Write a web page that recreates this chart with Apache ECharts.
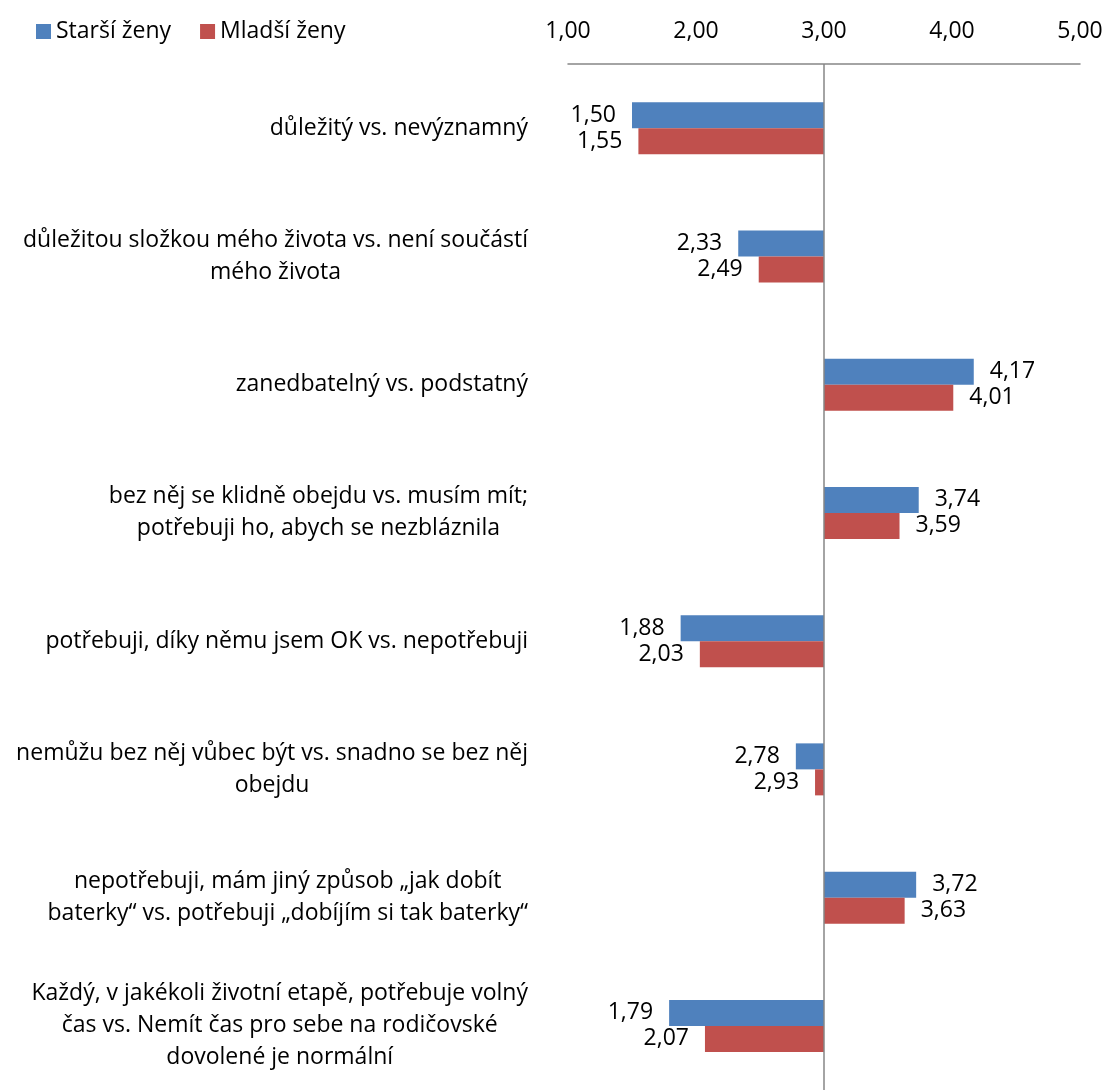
<!DOCTYPE html>
<html>
<head>
<meta charset="utf-8">
<script src="https://cdn.jsdelivr.net/npm/echarts@6/dist/echarts.min.js"></script>
<style>html,body{margin:0;padding:0;background:#fff;overflow:hidden}#c{width:1107px;height:1090px}</style>
</head>
<body>
<div id="c"></div>
<script>
const categories = [
  "důležitý vs. nevýznamný",
  "důležitou složkou mého života vs. není součástí\nmého života",
  "zanedbatelný vs. podstatný",
  "bez něj se klidně obejdu vs. musím mít;\npotřebuji ho, abych se nezbláznila",
  "potřebuji, díky němu jsem OK vs. nepotřebuji",
  "nemůžu bez něj vůbec být vs. snadno se bez něj\nobejdu",
  "nepotřebuji, mám jiný způsob „jak dobít\nbaterky“ vs. potřebuji „dobíjím si tak baterky“",
  "Každý, v jakékoli životní etapě, potřebuje volný\nčas vs. Nemít čas pro sebe na rodičovské\ndovolené je normální"
];
const seriesNames = ["Starší ženy", "Mladší ženy"];
const starsi = [1.50, 2.33, 4.17, 3.74, 1.88, 2.78, 3.72, 1.79];
const mladsi = [1.55, 2.49, 4.01, 3.59, 2.03, 2.93, 3.63, 2.07];
const axisTicks = [1, 2, 3, 4, 5];
const baseline = 3;

const FONT = 'Open Sans';
const FS = 23;
const fmt = v => v.toFixed(2).replace('.', ',');

function toItems(arr) {
  return arr.map(v => ({
    value: +(v - baseline).toFixed(4),
    label: { position: v < baseline ? 'left' : 'right' },
    orig: v
  }));
}

const chart = echarts.init(document.getElementById('c'));
chart.setOption({
  animation: false,
  textStyle: { fontFamily: FONT },
  legend: {
    left: 31, top: 15,
    itemWidth: 15, itemHeight: 15, itemGap: 29,
    icon: 'rect',
    textStyle: { fontFamily: FONT, fontSize: FS, color: '#000' },
    data: seriesNames
  },
  grid: { left: 568, right: 27, top: 64, height: 1035, containLabel: false },
  xAxis: {
    type: 'value', position: 'top',
    min: axisTicks[0] - baseline, max: axisTicks[axisTicks.length - 1] - baseline, interval: 1,
    axisLine: { show: true, lineStyle: { color: '#868686', width: 1.5 } },
    axisTick: { show: false },
    splitLine: { show: false },
    axisLabel: {
      margin: 21, color: '#000', fontFamily: FONT, fontSize: FS,
      formatter: v => fmt(v + baseline)
    }
  },
  yAxis: {
    type: 'category', inverse: true, data: categories,
    axisLine: { show: false }, axisTick: { show: false },
    axisLabel: {
      margin: 40, color: '#000', fontFamily: FONT, fontSize: FS, align: 'right',
      formatter: v => v.split('\n').map(s => '{c|' + s + '}').join('\n'),
      rich: { c: { align: 'center', fontFamily: FONT, fontSize: FS, lineHeight: 32, color: '#000' } }
    }
  },
  series: [
    {
      name: seriesNames[0], type: 'bar', data: toItems(starsi),
      barWidth: 26, barGap: '0%',
      itemStyle: { color: '#4F81BD' },
      label: { show: true, distance: 16, color: '#000', fontFamily: FONT, fontSize: FS,
        formatter: p => fmt(p.data.orig) },
      markLine: {
        silent: true, symbol: 'none', label: { show: false },
        lineStyle: { color: '#868686', width: 1.5, type: 'solid' },
        data: [{ xAxis: 0 }]
      }
    },
    {
      name: seriesNames[1], type: 'bar', data: toItems(mladsi),
      barWidth: 26, barGap: '0%',
      itemStyle: { color: '#C0504D' },
      label: { show: true, distance: 16, color: '#000', fontFamily: FONT, fontSize: FS,
        formatter: p => fmt(p.data.orig) }
    }
  ]
});
</script>
</body>
</html>
